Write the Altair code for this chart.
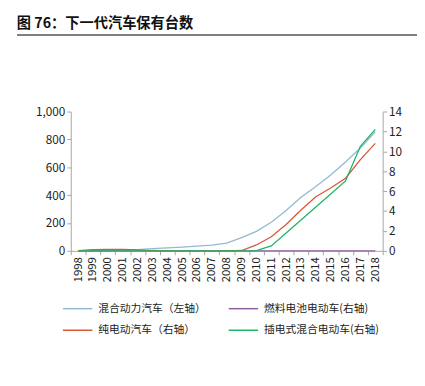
import altair as alt
import pandas as pd

years = [str(y) for y in range(1998, 2019)]
# 混合动力汽车 (left axis, 0-1000)
hybrid = [0.5, 1, 3, 5, 9, 15, 21, 27, 33, 40, 55, 95, 140, 205, 290, 385, 462, 545, 638, 738, 855]
# right axis (0-14)
fuel_cell = [0] * 21
bev = [0.03, 0.12, 0.15, 0.15, 0.1, 0.03, 0, 0, 0, 0, 0, 0.03, 0.59, 1.41, 2.65, 4.1, 5.44, 6.32, 7.3, 9.17, 10.8]
phev = [0, 0, 0, 0, 0, 0, 0, 0, 0, 0, 0, 0, 0.02, 0.49, 1.8, 3.1, 4.4, 5.7, 7.03, 10.5, 12.2]

names = ["混合动力汽车（左轴）", "燃料电池电动车(右轴)", "纯电动汽车（右轴）", "插电式混合电动车(右轴)"]
colors = ["#93b9d3", "#8f5fa0", "#d9573b", "#1fb56a"]
title_text = "图 76：下一代汽车保有台数"

# legend fills column by column: order so rows read (hybrid, fuel cell) / (bev, phev)
legend_order = [names[0], names[2], names[1], names[3]]
legend_colors = [colors[0], colors[2], colors[1], colors[3]]

rows = []
for name, vals in zip(names, [hybrid, fuel_cell, bev, phev]):
    for yr, v in zip(years, vals):
        rows.append({"year": yr, "series": name, "value": v})
df = pd.DataFrame(rows)

font = "Noto Sans CJK SC"

xenc = alt.X(
    "year:O",
    sort=years,
    scale=alt.Scale(type="band", paddingInner=0, paddingOuter=0),
    bandPosition=0.5,
    axis=alt.Axis(title=None, labelAngle=-90, tickBand="extent", tickSize=4,
                  labelPadding=2, labelFontSize=11.5, labelBaseline="middle", labelAlign="right"),
)
color = alt.Color(
    "series:N",
    scale=alt.Scale(domain=legend_order, range=legend_colors),
    legend=alt.Legend(
        title=None, orient="none", legendX=-9, legendY=185, columns=2,
        symbolType="stroke", symbolSize=900, symbolStrokeWidth=1.5,
        labelFontSize=11, labelFont=font, labelOffset=5, rowPadding=1,
        columnPadding=20, padding=0, labelColor="#222",
    ),
)

base = alt.Chart(df)

left = base.transform_filter(alt.datum.series == names[0]).mark_line(strokeWidth=1.3).encode(
    x=xenc,
    y=alt.Y("value:Q", scale=alt.Scale(domain=[0, 1000]),
            axis=alt.Axis(title=None, values=[0, 200, 400, 600, 800, 1000], format=",.0f",
                          orient="left", tickSize=4, grid=False)),
    color=color,
)

yright = alt.Y("value:Q", scale=alt.Scale(domain=[0, 14]),
               axis=alt.Axis(title=None, values=list(range(0, 15, 2)), format="d", orient="right",
                             tickSize=4, grid=False))

right = alt.layer(*[
    base.transform_filter(alt.datum.series == n).mark_line(strokeWidth=1.3).encode(
        x=xenc, y=yright, color=color)
    for n in names[1:]
])

rule = alt.Chart(df).mark_rule(color="#7f7f7f", strokeWidth=2).encode(
    x=alt.value(-54), x2=alt.value(353), y=alt.value(-78)
)

chart = alt.layer(left, right, rule).resolve_scale(y="independent").properties(
    width=318, height=142,
    padding={"left": 64, "top": 102, "right": 35, "bottom": 120},
    autosize=alt.AutoSizeParams(type="none"),
    title=alt.Title(title_text, anchor="start", frame="bounds", fontSize=14.5,
                    fontWeight="bold", font=font, offset=3, color="#111"),
).configure_view(stroke=None).configure_axis(
    labelFont=font, labelFontSize=12, labelColor="#222",
    domainColor="#a6a6a6", tickColor="#a6a6a6",
)

chart.save("out.html", embed_options={"renderer": "svg", "actions": False})
